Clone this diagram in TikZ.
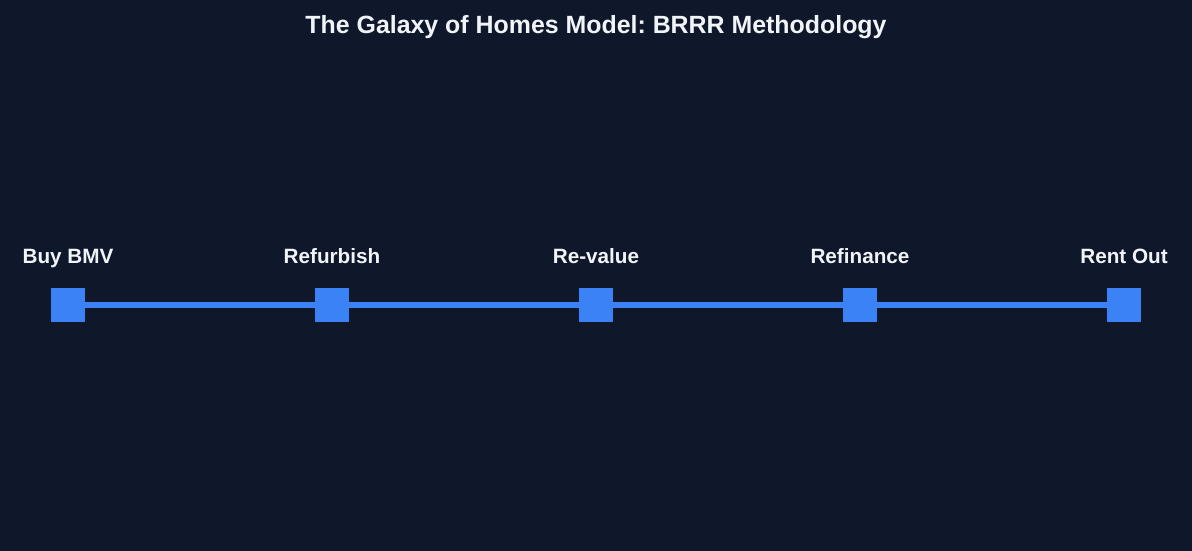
\documentclass[tikz,border=0pt]{standalone}
\usepackage{fontspec}
\setmainfont{Liberation Sans}
\usetikzlibrary{positioning}
\definecolor{bgnavy}{HTML}{0F172A}
\definecolor{stepblue}{HTML}{3B82F6}
\definecolor{textwhite}{HTML}{F1F5F9}
\frenchspacing

\begin{document}
\begin{tikzpicture}[x=1pt, y=-1pt, node distance = 264pt, on grid,
		stage/.style={rectangle, fill=stepblue, minimum size=34pt, inner sep=0pt},
		stagename/.style={text=textwhite, font=\bfseries\fontsize{20.7}{24}\selectfont, inner sep=0pt},
		link/.style={stepblue, line width=6pt}]
			\fill[bgnavy] (0,0) rectangle (1192,551);
			\useasboundingbox (0,0) rectangle (1192,551);

			\node[text=textwhite, font=\bfseries\fontsize{24.9}{28}\selectfont, anchor=base, inner sep=0pt] (title) at (596,34) {The Galaxy of Homes Model: BRRR Methodology};

			\node[stage] (buy) at (68,305) {};
			\node[stage, right=of buy] (refurb) {};
			\node[stage, right=of refurb] (reval) {};
			\node[stage, right=of reval] (refin) {};
			\node[stage, right=of refin] (rent) {};

			\foreach \s/\t in {buy/Buy BMV, refurb/Refurbish, reval/Re-value, refin/Refinance, rent/Rent Out}
				\node[stagename, anchor=base] (\s-name) at ([yshift=24pt]\s.north) {\t};

			\draw[link] (buy) -- (refurb)
			(refurb) -- (reval)
			(reval) -- (refin)
			(refin) -- (rent);

		\end{tikzpicture}
\end{document}
